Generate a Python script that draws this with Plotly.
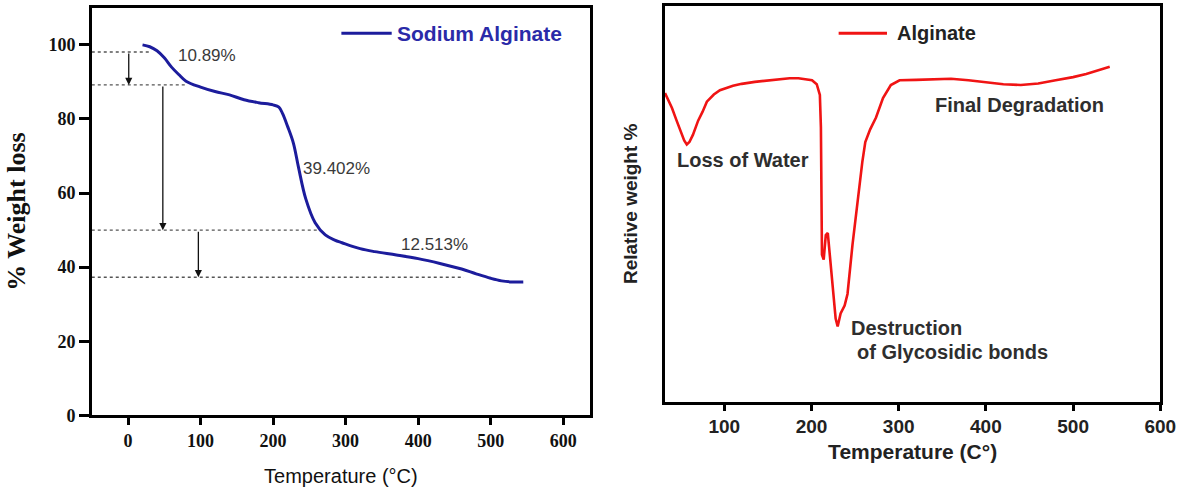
import plotly.graph_objects as go

# --- TGA curve: sodium alginate (left panel) ---
tga_temp = [20, 30, 40, 50, 60, 70, 80, 100, 120, 140, 160, 180, 200, 208, 213, 220,
            228, 235, 245, 258, 272, 285, 295, 320, 340, 370, 400, 430, 460, 480,
            500, 515, 530, 545]
tga_weight = [100, 99.5, 98.4, 96.5, 94, 92, 90.2, 88.6, 87.4, 86.5, 85.2, 84.4, 83.8,
              83.2, 81.5, 78, 73.5, 67, 58.5, 52, 48.7, 47.3, 46.6, 45, 44.2, 43.3,
              42.3, 41, 39.5, 38.2, 37, 36.3, 36, 36]

# step levels marking each weight-loss stage, with the temperature where each guide ends
step_levels = [98.1, 89.2, 50.0, 37.3]
step_ends = [30, 82, 261, 463]
# arrows: (temperature, from level, to level)
arrow_temps = [1, 48, 97]
arrow_from = [98.1, 89.2, 50.0]
arrow_to = [89.2, 50.0, 37.3]
# stage labels
loss_labels = ["10.89%", "39.402%", "12.513%"]
loss_x = [109, 288, 422]
loss_y = [97, 66.7, 46]

# --- DTG curve: alginate (right panel, arbitrary units) ---
dtg_temp = [32, 36, 40, 45, 50, 54, 57, 60, 64, 70, 75, 80, 88, 95, 110, 120, 135, 150,
            165, 175, 185, 195, 200.6, 206, 209.6, 210.8, 211.3, 212, 214, 216.4, 218.7,
            221, 224.3, 227.7, 230, 233.4, 238, 241.3, 247, 252.6, 258.3, 261.7, 267.3,
            274, 282, 291, 301, 320, 340, 360, 380, 400, 420, 440, 460, 480, 500, 515,
            530, 542]
dtg_signal = [78, 76.2, 74.2, 71.2, 68.3, 66.0, 65.0, 65.6, 67.4, 71.0, 73.2, 75.8, 77.6,
              78.7, 79.8, 80.3, 80.8, 81.1, 81.5, 81.7, 81.7, 81.5, 81.2, 80.2, 77.5,
              69.3, 52.0, 37.1, 35.9, 42.1, 42.6, 37.1, 28.5, 21.0, 19.0, 22.3, 24.3,
              27.2, 39.6, 50.7, 60.6, 65.6, 68.8, 71.8, 76.7, 80.0, 81.2, 81.3, 81.4,
              81.6, 81.2, 80.7, 80.2, 80.0, 80.4, 81.2, 82.0, 82.8, 83.8, 84.6]
dtg_notes = ["Loss of Water", "Final Degradation", "Destruction", "of Glycosidic bonds"]
dtg_note_x = [43.5, 339, 243, 250]
dtg_note_y = [61.1, 75.0, 18.6, 12.6]

BLUE = "#1c1c9c"
RED = "#f01414"
TEXT = "#2e2e2e"
W, H = 1198, 491

fig = go.Figure()

# dotted guide lines for each stage
for lvl, xe in zip(step_levels, step_ends):
    fig.add_trace(go.Scatter(x=[-50, xe], y=[lvl, lvl], mode="lines",
                             line=dict(color="#555555", width=1.4, dash="dot"),
                             showlegend=False, hoverinfo="skip", xaxis="x", yaxis="y"))

fig.add_trace(go.Scatter(x=tga_temp, y=tga_weight, mode="lines", name="Sodium Alginate",
                         line=dict(color=BLUE, width=3), line_shape="spline",
                         showlegend=False, xaxis="x", yaxis="y"))

fig.add_trace(go.Scatter(x=dtg_temp, y=dtg_signal, mode="lines", name="Alginate",
                         line=dict(color=RED, width=2.6),
                         showlegend=False, xaxis="x2", yaxis="y2"))

annotations = []
for t, a, b in zip(arrow_temps, arrow_from, arrow_to):
    annotations.append(dict(x=t, y=b, ax=t, ay=a, xref="x", yref="y", axref="x", ayref="y",
                            text="", showarrow=True, arrowhead=2, arrowsize=1.1,
                            arrowwidth=1.3, arrowcolor="#111111"))
for txt, x, y in zip(loss_labels, loss_x, loss_y):
    annotations.append(dict(x=x, y=y, xref="x", yref="y", text=txt, showarrow=False,
                            font=dict(family="Liberation Sans", size=17, color="#3a3a3a")))
for txt, x, y in zip(dtg_notes, dtg_note_x, dtg_note_y):
    annotations.append(dict(x=x, y=y, xref="x2", yref="y2", text=txt, showarrow=False,
                            xanchor="left", yanchor="middle",
                            font=dict(family="Liberation Sans", size=20, color=TEXT,
                                      weight="bold")))

# legend entries: swatch line + label for each panel
annotations.append(dict(x=400 / W, y=1 - 34 / H, xref="paper", yref="paper",
                        xanchor="left", yanchor="middle",
                        text="Sodium Alginate", showarrow=False,
                        font=dict(family="Liberation Sans", size=21, color="#2a2aa8",
                                  weight="bold")))
annotations.append(dict(x=907 / W, y=1 - 34 / H, xref="paper", yref="paper",
                        xanchor="left", yanchor="middle",
                        text="Alginate", showarrow=False,
                        font=dict(family="Liberation Sans", size=20, color="#222222",
                                  weight="bold")))
shapes = [
    dict(type="line", xref="paper", yref="paper", x0=346 / W, x1=397 / W,
         y0=1 - 34 / H, y1=1 - 34 / H, line=dict(color=BLUE, width=3)),
    dict(type="line", xref="paper", yref="paper", x0=850 / W, x1=899 / W,
         y0=1 - 34 / H, y1=1 - 34 / H, line=dict(color=RED, width=3)),
]

fig.update_layout(
    width=W, height=H,
    margin=dict(l=0, r=0, t=0, b=0),
    paper_bgcolor="white", plot_bgcolor="white",
    annotations=annotations, shapes=shapes,
    xaxis=dict(domain=[93 / W, 598 / W], range=[-50, 637],
               tickvals=[0, 100, 200, 300, 400, 500, 600],
               showline=True, linecolor="black", linewidth=2.5, mirror=True,
               ticks="outside", ticklen=7, tickwidth=2.5, tickcolor="black",
               showgrid=False, zeroline=False,
               tickfont=dict(family="Liberation Serif", size=18, color="#111111", weight="bold"),
               title=dict(text="Temperature (°C)", standoff=20,
                          font=dict(family="Liberation Sans", size=20, color="#111111")),
               anchor="y"),
    yaxis=dict(domain=[1 - 424 / H, 1 - 8 / H], range=[0, 110],
               tickvals=[0, 20, 40, 60, 80, 100],
               showline=True, linecolor="black", linewidth=2.5, mirror=True,
               ticks="outside", ticklen=10, tickwidth=2.5, tickcolor="black",
               showgrid=False, zeroline=False,
               tickfont=dict(family="Liberation Serif", size=18, color="#111111", weight="bold"),
               title=dict(text="% Weight loss", standoff=16,
                          font=dict(family="Liberation Serif", size=26, color="#111111",
                                    weight="bold")),
               anchor="x"),
    xaxis2=dict(domain=[674 / W, 1176 / W], range=[32, 600],
                tickvals=[100, 200, 300, 400, 500, 600],
                showline=True, linecolor="black", linewidth=3, mirror=True,
                ticks="outside", ticklen=6, tickwidth=2.5, tickcolor="black",
                showgrid=False, zeroline=False,
                tickfont=dict(family="Liberation Sans", size=19, color="#222222", weight="bold"),
                title=dict(text="Temperature (C°)", standoff=8,
                           font=dict(family="Liberation Sans", size=21, color="#222222",
                                     weight="bold")),
                anchor="y2"),
    yaxis2=dict(domain=[1 - 410 / H, 1 - 6 / H], range=[0, 100],
                showline=True, linecolor="black", linewidth=3, mirror=True,
                ticks="", showticklabels=False,
                showgrid=False, zeroline=False,
                title=dict(text="Relative weight %", standoff=20,
                           font=dict(family="Liberation Sans", size=19, color="#222222",
                                     weight="bold")),
                anchor="x2"),
)

fig.write_html("out.html")
